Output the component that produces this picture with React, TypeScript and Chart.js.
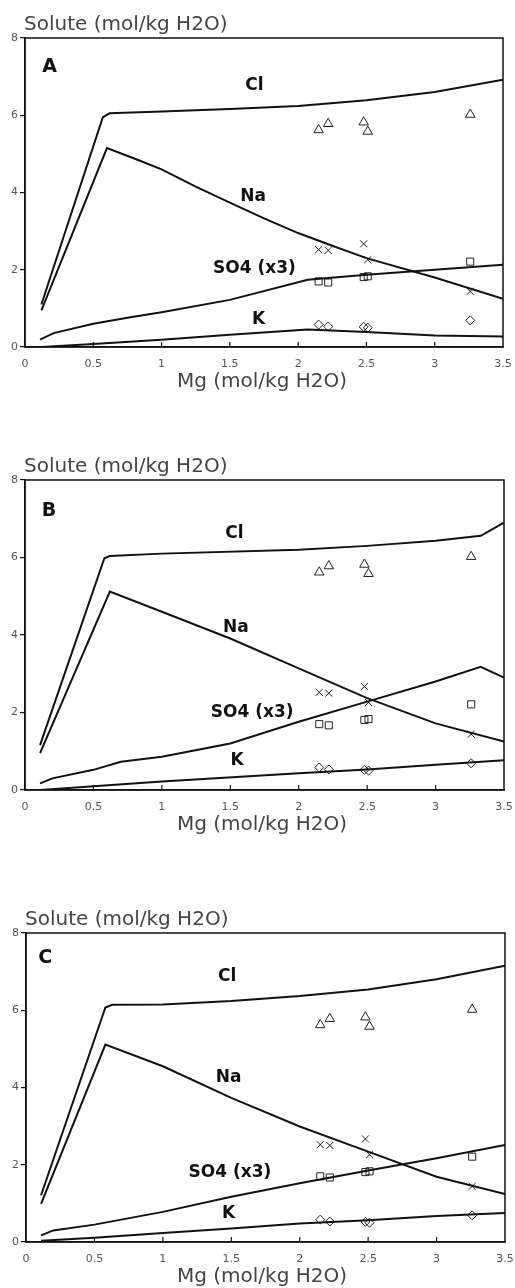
import React, { useEffect, useRef } from "react";
import { Chart, registerables } from "chart.js";
Chart.register(...registerables);

// ---- axes ----
const xTickValues = [0, 0.5, 1, 1.5, 2, 2.5, 3, 3.5];
const xTickLabels = ["0", "0.5", "1", "1.5", "2", "2.5", "3", "3.5"];
const yTickValues = [0, 2, 4, 6, 8];
const yTickLabels = ["0", "2", "4", "6", "8"];
const yTitle = "Solute (mol/kg H2O)";
const xTitle = "Mg (mol/kg H2O)";

// ---- observed data (same in every panel) ----
const obsMg = [2.15, 2.22, 2.48, 2.51, 3.26];
const obsCl = [5.62, 5.78, 5.82, 5.58, 6.02];
const obsNa = [2.52, 2.5, 2.67, 2.26, 1.44];
const obsSO4 = [1.7, 1.67, 1.81, 1.83, 2.21];
const obsK = [0.58, 0.53, 0.52, 0.5, 0.69];

// ---- model curves, panel A ----
const clA = [[0.12, 1.1], [0.57, 5.95], [0.62, 6.05], [1, 6.1], [1.5, 6.16], [2, 6.24], [2.5, 6.39], [3, 6.6], [3.5, 6.92]];
const naA = [[0.12, 0.95], [0.6, 5.15], [0.8, 4.88], [1, 4.6], [1.25, 4.15], [1.5, 3.74], [1.75, 3.33], [2, 2.95], [2.25, 2.62], [2.5, 2.3], [3, 1.8], [3.5, 1.25]];
const so4A = [[0.11, 0.19], [0.21, 0.36], [0.5, 0.6], [0.75, 0.76], [1, 0.9], [1.5, 1.22], [2.07, 1.74], [2.5, 1.87], [3, 2.0], [3.5, 2.13]];
const kA = [[0.12, 0.0], [0.5, 0.08], [1, 0.19], [1.5, 0.32], [2.07, 0.45], [2.5, 0.39], [3, 0.3], [3.5, 0.27]];

// ---- model curves, panel B ----
const clB = [[0.11, 1.16], [0.58, 5.98], [0.62, 6.04], [1, 6.1], [2, 6.2], [2.5, 6.3], [3, 6.43], [3.33, 6.56], [3.5, 6.9]];
const naB = [[0.11, 0.95], [0.62, 5.12], [1, 4.6], [1.5, 3.91], [2, 3.14], [2.5, 2.37], [3, 1.72], [3.5, 1.25]];
const so4B = [[0.11, 0.17], [0.2, 0.3], [0.5, 0.52], [0.7, 0.73], [1, 0.86], [1.5, 1.2], [2, 1.76], [2.5, 2.28], [3, 2.8], [3.33, 3.18], [3.5, 2.9]];
const kB = [[0.11, 0.0], [1, 0.22], [2, 0.43], [2.5, 0.53], [3, 0.65], [3.5, 0.77]];

// ---- model curves, panel C ----
const clC = [[0.11, 1.21], [0.58, 6.07], [0.63, 6.14], [1, 6.15], [1.5, 6.24], [2, 6.37], [2.5, 6.54], [3, 6.8], [3.5, 7.15]];
const naC = [[0.11, 0.99], [0.58, 5.11], [1, 4.55], [1.5, 3.73], [2, 2.99], [2.5, 2.34], [3, 1.69], [3.5, 1.24]];
const so4C = [[0.11, 0.17], [0.2, 0.3], [0.5, 0.45], [1, 0.78], [1.5, 1.17], [2, 1.52], [2.5, 1.85], [3, 2.17], [3.5, 2.51]];
const kC = [[0.11, 0.03], [0.5, 0.11], [1, 0.23], [1.5, 0.35], [2, 0.48], [2.5, 0.56], [3, 0.67], [3.5, 0.75]];

// ---- text labels (data coordinates) ----
const curveNames = ["Cl", "Na", "SO4 (x3)", "K"];
const labelPosA = [[1.68, 6.76], [1.67, 3.89], [1.68, 2.02], [1.71, 0.7]];
const labelPosB = [[1.53, 6.61], [1.54, 4.2], [1.66, 1.99], [1.55, 0.75]];
const labelPosC = [[1.47, 6.87], [1.48, 4.25], [1.49, 1.81], [1.48, 0.73]];

const FONT = "'DejaVu Sans', sans-serif";

type Panel = {
  letter: string;
  letterPos: number[];
  curves: number[][][];
  labelPos: number[][];
  canvasTop: number;
  canvasH: number;
  area: { top: number; bottom: number; left: number; right: number };
};

const panels: Panel[] = [
  { letter: "A", letterPos: [0.18, 7.25], curves: [clA, naA, so4A, kA], labelPos: labelPosA, canvasTop: 0, canvasH: 420, area: { top: 38, bottom: 347, left: 25, right: 503 } },
  { letter: "B", letterPos: [0.175, 7.2], curves: [clB, naB, so4B, kB], labelPos: labelPosB, canvasTop: 420, canvasH: 430, area: { top: 60, bottom: 370, left: 25, right: 504 } },
  { letter: "C", letterPos: [0.14, 7.36], curves: [clC, naC, so4C, kC], labelPos: labelPosC, canvasTop: 850, canvasH: 438, area: { top: 83, bottom: 392, left: 26, right: 505 } },
];

const toPts = (arr: number[][]) => arr.map(([x, y]) => ({ x, y }));
const obsPts = (ys: number[]) => obsMg.map((x, i) => ({ x, y: ys[i] }));

function PanelChart({ p }: { p: Panel }) {
  const ref = useRef<HTMLCanvasElement>(null);
  useEffect(() => {
    if (!ref.current) return;
    const X_AXIS_H = 30;
    const decor = {
      id: "decor",
      afterDraw(chart: any) {
        const { ctx, chartArea: a, scales } = chart;
        const xs = scales.x, ys = scales.y;
        ctx.save();
        // frame
        ctx.strokeStyle = "#111";
        ctx.lineWidth = 1.5;
        ctx.strokeRect(a.left, a.top, a.right - a.left, a.bottom - a.top);
        // inner x ticks
        ctx.lineWidth = 1.2;
        xTickValues.forEach((v) => {
          if (v === 0 || v === 3.5) return;
          const px = xs.getPixelForValue(v);
          ctx.beginPath();
          ctx.moveTo(px, a.bottom);
          ctx.lineTo(px, a.bottom - 5);
          ctx.stroke();
        });
        // y title
        ctx.fillStyle = "#444";
        ctx.font = `20px ${FONT}`;
        ctx.textAlign = "left";
        ctx.textBaseline = "middle";
        ctx.fillText(yTitle, a.left - 1, a.top - 13);
        // x title
        ctx.textAlign = "center";
        ctx.fillText(xTitle, 262, a.bottom + 35);
        // panel letter
        ctx.fillStyle = "#111";
        ctx.font = `bold 19px ${FONT}`;
        ctx.fillText(p.letter, xs.getPixelForValue(p.letterPos[0]), ys.getPixelForValue(p.letterPos[1]));
        // curve labels
        ctx.font = `bold 17px ${FONT}`;
        curveNames.forEach((n, i) => {
          const [lx, ly] = p.labelPos[i];
          ctx.fillText(n, xs.getPixelForValue(lx), ys.getPixelForValue(ly));
        });
        ctx.restore();
      },
    };
    const lineDs = (arr: number[][]) => ({
      type: "scatter" as const,
      data: toPts(arr),
      showLine: true,
      pointRadius: 0,
      borderColor: "#111",
      borderWidth: 2,
      tension: 0,
    });
    const obsDs = (ys: number[], style: any, r: number) => ({
      type: "scatter" as const,
      data: obsPts(ys),
      showLine: false,
      pointStyle: style,
      pointRadius: r,
      borderColor: "#222",
      borderWidth: 1,
      backgroundColor: "rgba(0,0,0,0)",
    });
    const chart = new Chart(ref.current, {
      type: "scatter",
      data: {
        datasets: [
          ...p.curves.map(lineDs),
          obsDs(obsCl, "triangle", 5.5),
          obsDs(obsNa, "crossRot", 5),
          obsDs(obsSO4, "rect", 5),
          obsDs(obsK, "rectRot", 4.5),
        ] as any,
      },
      options: {
        responsive: false,
        animation: false,
        events: [],
        layout: {
          padding: {
            top: p.area.top,
            left: 0,
            right: 515 - p.area.right,
            bottom: p.canvasH - p.area.bottom - X_AXIS_H,
          },
        },
        plugins: { legend: { display: false }, tooltip: { enabled: false }, title: { display: false } },
        scales: {
          x: {
            type: "linear",
            min: 0,
            max: 3.5,
            afterFit: (s: any) => { s.height = X_AXIS_H; s.paddingLeft = 0; s.paddingRight = 0; },
            afterBuildTicks: (s: any) => { s.ticks = xTickValues.map((v) => ({ value: v })); },
            ticks: {
              callback: (v: any) => xTickLabels[xTickValues.indexOf(Number(v))] ?? "",
              color: "#555",
              font: { family: FONT, size: 11 },
              padding: 11,
              maxRotation: 0,
              autoSkip: false,
            },
            grid: { drawOnChartArea: false, drawTicks: false, display: false },
            border: { display: true, color: "#111", width: 1.5 },
          },
          y: {
            type: "linear",
            min: 0,
            max: 8,
            afterFit: (s: any) => { s.width = p.area.left; s.paddingTop = 0; s.paddingBottom = 0; },
            afterBuildTicks: (s: any) => { s.ticks = yTickValues.map((v) => ({ value: v })); },
            ticks: {
              callback: (v: any) => yTickLabels[yTickValues.indexOf(Number(v))] ?? "",
              color: "#555",
              font: { family: FONT, size: 11 },
              padding: 2,
              autoSkip: false,
            },
            grid: { drawOnChartArea: false, drawTicks: true, tickLength: 5, color: "#111", lineWidth: 1.2 },
            border: { display: true, color: "#111", width: 1.5 },
          },
        },
      },
      plugins: [decor],
    });
    return () => chart.destroy();
  }, [p]);
  return (
    <canvas
      ref={ref}
      width={515}
      height={p.canvasH}
      style={{ position: "absolute", left: 0, top: p.canvasTop, width: 515, height: p.canvasH }}
    />
  );
}

export default function App() {
  return (
    <div style={{ position: "absolute", left: 0, top: 0, width: 515, height: 1288, background: "#fff" }}>
      {panels.map((p) => (
        <PanelChart key={p.letter} p={p} />
      ))}
    </div>
  );
}
